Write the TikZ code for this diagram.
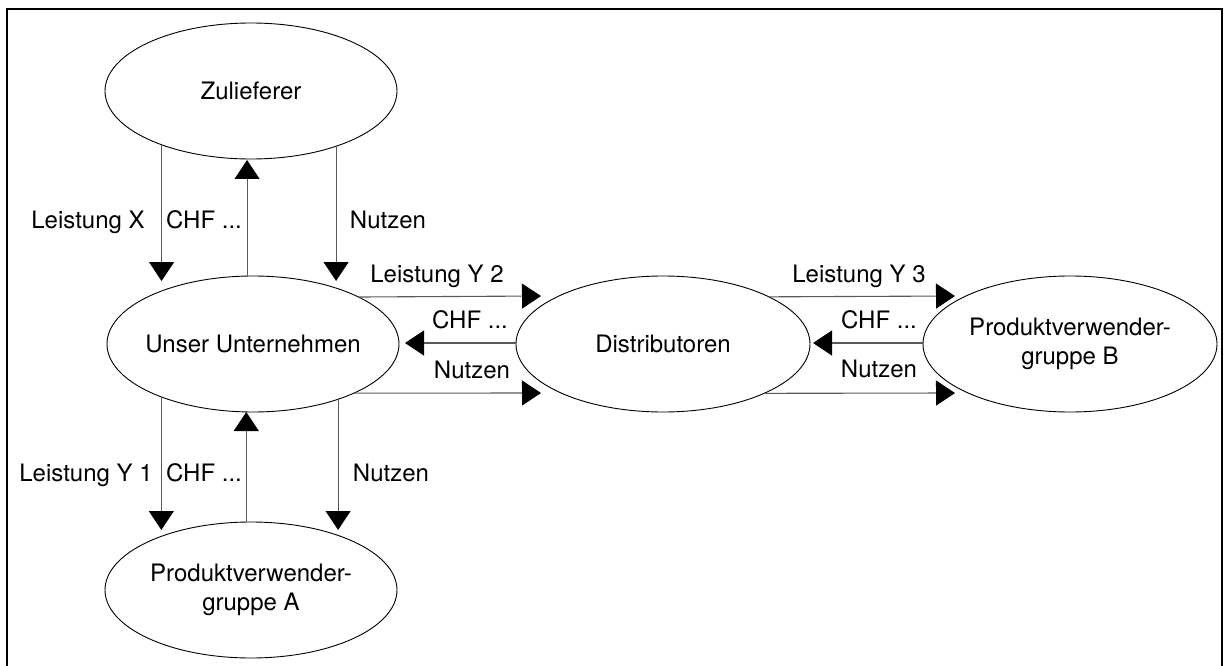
\documentclass[tikz,border=0pt]{standalone}
\usepackage{fontspec}
\setmainfont{TeX Gyre Heros}
\usetikzlibrary{shapes.geometric,arrows.meta}
\newcommand{\twolines}[2]{\makebox[0pt]{\begin{tabular}{@{}c@{}}#1\\#2\end{tabular}}}
\begin{document}
\begin{tikzpicture}[x=1pt,y=-1pt,
  ent/.style={ellipse,draw=black,line width=0.9pt,inner sep=0pt,outer sep=0pt,
              minimum width=292pt,minimum height=136pt},
  flow/.style={draw=black!65,line width=1.1pt,
               -{Triangle[length=19pt,width=25pt,color=black]}},
  lbl/.style={anchor=base,inner sep=0pt},
  font=\fontsize{24}{29}\selectfont]
\useasboundingbox (0,0) rectangle (1224,666);

% open frame (no bottom edge)
\draw[line width=2pt] (7,666) -- (7,9) -- (1222,9) -- (1222,666);

% parties
\node[ent] (zul)   at (251,91)  {\makebox[0pt]{Zulieferer}};
\node[ent] (unser) at (253,344) {\makebox[0pt]{Unser Unternehmen}};
\node[ent] (prodA) at (251,590) {\twolines{Produktverwender-}{gruppe A}};
\node[ent,minimum width=294pt] (dist)  at (663,344) {\makebox[0pt]{Distributoren}};
\node[ent,minimum width=294pt] (prodB) at (1070,344) {\twolines{Produktverwender-}{gruppe B}};

% arrow end points
\coordinate (tLX)  at (163,281);
\coordinate (tC1)  at (246,160);
\coordinate (tN1)  at (338,281);
\coordinate (tLY1) at (163,530);
\coordinate (tC2)  at (246,412);
\coordinate (tN2)  at (338,530);
\coordinate (tLY2) at (541,296);
\coordinate (tC3)  at (405,343);
\coordinate (tN3)  at (541,393);
\coordinate (tLY3) at (955,296);
\coordinate (tC4)  at (813,343);
\coordinate (tN4)  at (955,393);

% supplier <-> company
\draw[flow] (zul.211.7) -- (zul.211.7 |- tLX);
\draw[flow] (unser.95.9) -- (unser.95.9 |- tC1);
\draw[flow] (zul.327.9) -- (zul.327.9 |- tN1);

% company <-> user group A
\draw[flow] (unser.210.7) -- (unser.210.7 |- tLY1);
\draw[flow] (prodA.94.2) -- (prodA.94.2 |- tC2);
\draw[flow] (unser.327) -- (unser.327 |- tN2);

% company <-> distributors
\draw[flow] (unser.24.9) -- (tLY2);
\draw[flow] (dist.west |- tC3) -- (tC3);
\draw[flow] (unser.334.2) -- (tN3);

% distributors <-> user group B
\draw[flow] (dist.24.8) -- (tLY3);
\draw[flow] (prodB.west |- tC4) -- (tC4);
\draw[flow] (dist.334.3) -- (tN4);

% flow labels
\node[lbl] (lLX)  at (88,228)  {Leistung X};
\node[lbl] (lC1)  at (204,228) {CHF ...};
\node[lbl] (lN1)  at (388,228) {Nutzen};
\node[lbl] (lLY1) at (86,481)  {Leistung Y 1};
\node[lbl] (lC2)  at (204,481) {CHF ...};
\node[lbl] (lN2)  at (391,481) {Nutzen};
\node[lbl] (lLY2) at (437,282) {Leistung Y 2};
\node[lbl] (lC3)  at (470,328) {CHF ...};
\node[lbl] (lN3)  at (472,378) {Nutzen};
\node[lbl] (lLY3) at (859,282) {Leistung Y 3};
\node[lbl] (lC4)  at (879,328) {CHF ...};
\node[lbl] (lN4)  at (879,377) {Nutzen};
\end{tikzpicture}
\end{document}
